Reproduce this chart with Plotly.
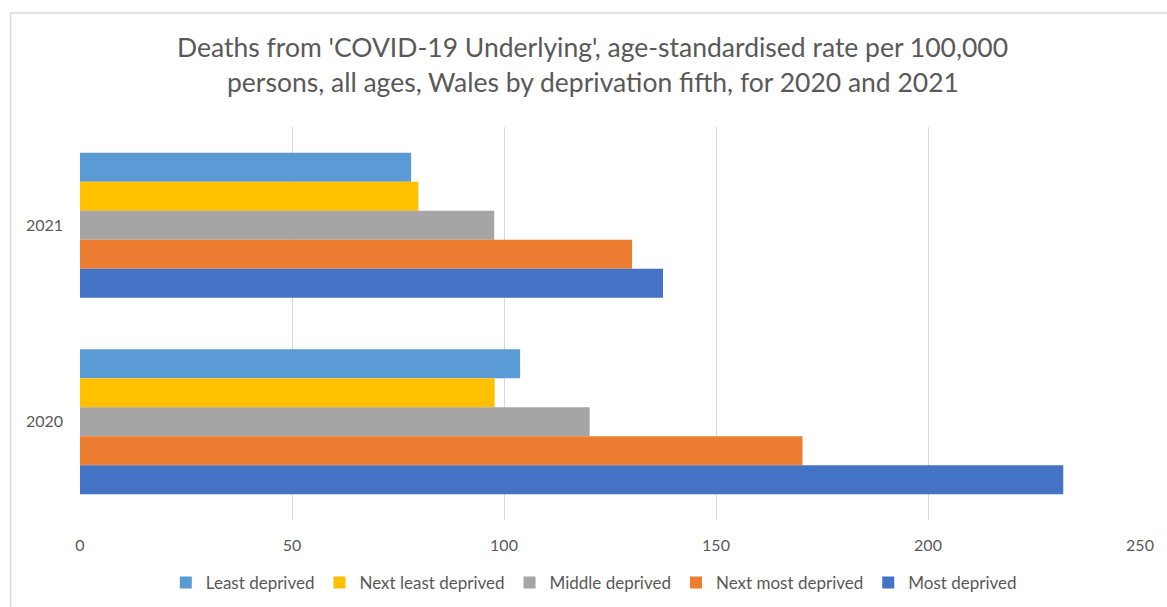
import plotly.graph_objects as go

years = ["2021", "2020"]
series_names = ["Least deprived", "Next least deprived", "Middle deprived", "Next most deprived", "Most deprived"]
least = [78.1, 103.8]
next_least = [79.8, 97.8]
middle = [97.7, 120.2]
next_most = [130.2, 170.4]
most = [137.5, 231.9]
x_ticks = [0, 50, 100, 150, 200, 250]
title_lines = ["Deaths from 'COVID-19 Underlying', age-standardised rate per 100,000",
               "persons, all ages, Wales by deprivation fifth, for 2020 and 2021"]

colors = ["#5B9BD5", "#FFC000", "#A5A5A5", "#ED7D31", "#4472C4"]
values = [least, next_least, middle, next_most, most]

W, H = 1167, 607
L, R, T, B = 80.4, 27, 127, 87
pw, ph = W - L - R, H - T - B

def px_x(x):
    return (x - L) / pw

def px_y(y):
    return (H - B - y) / ph

FONT = "Lato"
GREY = "#595959"

fig = go.Figure()
for name, vals, c in zip(series_names, values, colors):
    fig.add_trace(go.Bar(
        y=years, x=vals, name=name, orientation="h",
        marker=dict(color=c, line=dict(width=0)),
        hovertemplate="%{y} " + name + ": %{x}<extra></extra>",
    ))

annotations = []
for i, (line, ypx) in enumerate(zip(title_lines, [47, 82])):
    annotations.append(dict(
        text=line, xref="paper", yref="paper", x=px_x(593), y=px_y(ypx),
        xanchor="center", yanchor="middle", showarrow=False,
        font=dict(family=FONT, size=26.5, color=GREY),
    ))

fig.update_layout(
    width=W, height=H,
    margin=dict(l=L, r=R, t=T, b=B, autoexpand=False),
    paper_bgcolor="white", plot_bgcolor="white",
    barmode="group", bargap=0.262, bargroupgap=0,
    font=dict(family=FONT, color=GREY),
    xaxis=dict(
        range=[0, 250], tickvals=x_ticks, showgrid=True, gridcolor="#D9D9D9", gridwidth=1,
        zeroline=False, showline=False, ticks="", ticklabelstandoff=14,
        tickfont=dict(family=FONT, size=16, color=GREY), fixedrange=True,
    ),
    yaxis=dict(
        categoryorder="array", categoryarray=years, autorange="reversed",
        showgrid=False, zeroline=False, showline=False, ticks="", ticklabelstandoff=16,
        tickfont=dict(family=FONT, size=16, color=GREY), fixedrange=True,
    ),
    legend=dict(
        orientation="h", x=px_x(594), xanchor="center", y=px_y(583), yanchor="middle",
        font=dict(family=FONT, size=17, color=GREY), traceorder="normal",
        itemwidth=30, itemclick=False, itemdoubleclick=False,
    ),
    annotations=annotations,
    shapes=[dict(type="rect", xref="paper", yref="paper",
                 x0=px_x(11), x1=px_x(1200), y0=px_y(640), y1=px_y(13),
                 line=dict(color="#D9D9D9", width=1.5), fillcolor="rgba(0,0,0,0)", layer="below")],
    showlegend=True,
)

fig.write_html("out.html", config={"displayModeBar": False},
               post_script="document.body.style.margin='0';document.body.style.padding='0';")
